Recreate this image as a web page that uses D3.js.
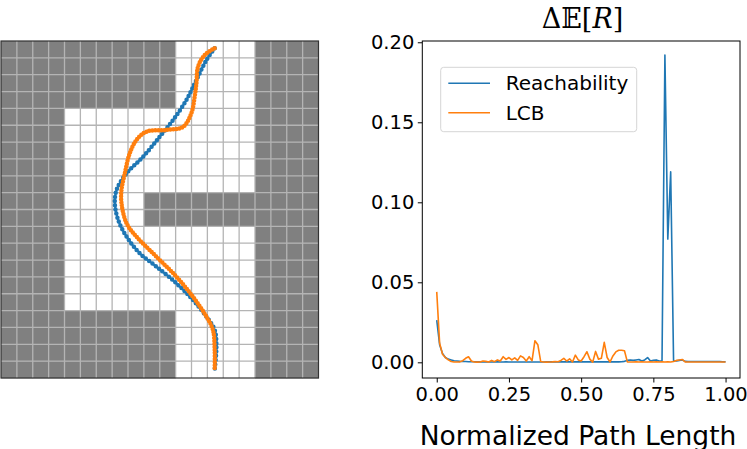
<!DOCTYPE html>
<html>
  <head>
    <meta charset="utf-8">
    <title>reachability vs lcb</title>
    <style>
      body { margin: 0; background: #fff; }
      text { font-family: "DejaVu Sans", sans-serif; fill: #000; }
    </style>
  </head>
  <body>
    <svg width="747" height="449"></svg>
    <script src="https://cdn.jsdelivr.net/npm/d3@7/dist/d3.min.js"></script>
    <script>
      // grid map, 20x20, '#' = obstacle
      var gridMap = [
        "###########.....####",
        "###########.....####",
        "###########.....####",
        "###########.....####",
        "####............####",
        "####............####",
        "####............####",
        "####............####",
        "####............####",
        "####.....###########",
        "####.....###########",
        "####............####",
        "####............####",
        "####............####",
        "####............####",
        "####............####",
        "###########.....####",
        "###########.....####",
        "###########.....####",
        "###########.....####"
      ];

      // paths in grid units [col, row]
      var pathReach = [
        [13.46,0.43],[12.94,1.13],[12.31,2.31],[11.68,3.50],[10.84,4.69],[10.0,5.68],
        [8.95,6.87],[7.91,7.85],[7.28,8.84],[7.17,9.63],[7.38,10.62],[7.91,11.61],
        [8.74,12.6],[9.79,13.39],[11.05,14.38],[12.09,15.37],[12.94,16.36],[13.46,17.15],
        [13.57,18.14],[13.46,19.52]
      ];
      var pathLCB = [
        [13.46,0.43],[12.83,0.83],[12.41,1.53],[12.31,2.51],[12.2,3.31],[11.99,4.29],
        [11.47,5.09],[10.42,5.28],[9.16,5.38],[8.53,5.88],[8.11,6.66],[7.8,7.85],
        [7.59,8.84],[7.59,9.63],[7.91,10.82],[8.53,11.61],[9.79,12.8],[11.05,13.99],
        [12.09,15.18],[12.94,16.36],[13.35,17.15],[13.46,18.33],[13.46,19.52]
      ];

      // right panel: normalized path length and delta E[R]
      var pathLength = [
        0.00,0.01,0.02,0.03,0.04,0.05,0.06,0.07,0.08,0.09,
        0.10,0.11,0.12,0.13,0.14,0.15,0.16,0.17,0.18,0.19,
        0.20,0.21,0.22,0.23,0.24,0.25,0.26,0.27,0.28,0.29,
        0.30,0.31,0.32,0.33,0.34,0.35,0.36,0.37,0.38,0.39,
        0.40,0.41,0.42,0.43,0.44,0.45,0.46,0.47,0.48,0.49,
        0.50,0.51,0.52,0.53,0.54,0.55,0.56,0.57,0.58,0.59,
        0.60,0.61,0.62,0.63,0.64,0.65,0.66,0.67,0.68,0.69,
        0.70,0.71,0.72,0.73,0.74,0.75,0.76,0.77,0.78,0.79,
        0.80,0.81,0.82,0.83,0.84,0.85,0.86,0.87,0.88,0.89,
        0.90,0.91,0.92,0.93,0.94,0.95,0.96,0.97,0.98,0.99,1.00
      ];
      var reachValues = [
        0.0264,0.0110,0.0055,0.0030,0.0020,0.0015,0.0010,0.0008,0.0006,0.0005,
        0.0005,0.0004,0.0004,0.0004,0.0003,0.0003,0.0003,0.0003,0.0002,0.0002,
        0.0002,0.0003,0.0002,0.0002,0.0003,0.0002,0.0002,0.0002,0.0002,0.0002,
        0.0002,0.0002,0.0002,0.0002,0.0002,0.0002,0.0002,0.0002,0.0003,0.0003,
        0.0003,0.0003,0.0003,0.0003,0.0003,0.0004,0.0003,0.0003,0.0004,0.0003,
        0.0003,0.0004,0.0003,0.0004,0.0003,0.0003,0.0004,0.0003,0.0003,0.0004,
        0.0003,0.0003,0.0004,0.0003,0.0004,0.0006,0.0012,0.0015,0.0012,0.0015,
        0.0018,0.0008,0.0015,0.0030,0.0008,0.0012,0.0015,0.0008,0.0010,0.1920,
        0.0770,0.1190,0.0010,0.0008,0.0012,0.0015,0.0006,0.0005,0.0005,0.0005,
        0.0005,0.0005,0.0005,0.0005,0.0005,0.0005,0.0005,0.0005,0.0005,0.0004,0.0004
      ];
      var lcbValues = [
        0.0440,0.0120,0.0050,0.0030,0.0015,0.0005,0.0002,0.0002,0.0003,0.0010,
        0.0025,0.0035,0.0008,0.0002,0.0001,0.0002,0.0008,0.0006,0.0002,0.0012,
        0.0004,0.0015,0.0008,0.0035,0.0018,0.0030,0.0015,0.0028,0.0012,0.0040,
        0.0030,0.0008,0.0035,0.0010,0.0135,0.0110,0.0005,0.0002,0.0001,0.0002,
        0.0003,0.0005,0.0004,0.0012,0.0025,0.0008,0.0022,0.0002,0.0045,0.0015,
        0.0008,0.0035,0.0066,0.0020,0.0001,0.0068,0.0020,0.0025,0.0125,0.0030,
        0.0002,0.0040,0.0065,0.0075,0.0075,0.0072,0.0003,0.0002,0.0002,0.0003,
        0.0002,0.0003,0.0002,0.0002,0.0003,0.0002,0.0003,0.0002,0.0003,0.0002,
        0.0003,0.0002,0.0005,0.0012,0.0015,0.0018,0.0003,0.0002,0.0002,0.0002,
        0.0002,0.0002,0.0002,0.0002,0.0002,0.0002,0.0002,0.0002,0.0002,0.0002,0.0002
      ];
      var yTicks = [0, 0.05, 0.10, 0.15, 0.20];
      var xTicks = [0, 0.25, 0.5, 0.75, 1.0];
      var seriesNames = ["Reachability", "LCB"];

      var blue = "#1f77b4", orange = "#ff7f0e";
      var svg = d3.select("svg");

      // ---------- left: grid map ----------
      var mx = d3.scaleLinear().domain([0, 20]).range([1, 318.5]);
      var my = d3.scaleLinear().domain([0, 20]).range([41, 378]);
      var gMap = svg.append("g");

      var cells = [];
      gridMap.forEach(function(row, r){
        row.split("").forEach(function(c, k){
          cells.push({r:r, c:k, wall:c === "#"});
        });
      });
      gMap.selectAll("rect.cell")
        .data(cells)
        .enter()
        .append("rect")
        .attr("x", function(d){ return mx(d.c); })
        .attr("y", function(d){ return my(d.r); })
        .attr("width", mx(1) - mx(0) + 0.3)
        .attr("height", my(1) - my(0) + 0.3)
        .attr("fill", function(d){ return d.wall ? "#808080" : "#ffffff"; });

      // grid lines
      gMap.selectAll("line.v")
        .data(d3.range(1, 20))
        .enter().append("line")
        .attr("x1", function(d){ return mx(d); }).attr("x2", function(d){ return mx(d); })
        .attr("y1", my(0)).attr("y2", my(20))
        .attr("stroke", "#b4b4b4").attr("stroke-width", 1.3);
      gMap.selectAll("line.h")
        .data(d3.range(1, 20))
        .enter().append("line")
        .attr("y1", function(d){ return my(d); }).attr("y2", function(d){ return my(d); })
        .attr("x1", mx(0)).attr("x2", mx(20))
        .attr("stroke", "#b4b4b4").attr("stroke-width", 1.3);

      gMap.append("rect")
        .attr("x", mx(0)).attr("y", my(0))
        .attr("width", mx(20) - mx(0)).attr("height", my(20) - my(0))
        .attr("fill", "none").attr("stroke", "#333").attr("stroke-width", 1.2);

      var mapLine = d3.line()
        .x(function(d){ return mx(d[0]); })
        .y(function(d){ return my(d[1]); })
        .curve(d3.curveCatmullRom.alpha(0.5));

      function drawPath(pts, color, gap){
        gMap.append("path").attr("d", mapLine(pts))
          .attr("fill", "none").attr("stroke", color).attr("stroke-width", 2);
        // markers along the path
        gMap.append("path").attr("d", mapLine(pts))
          .attr("fill", "none").attr("stroke", color).attr("stroke-width", 4.5)
          .attr("stroke-linecap", "round")
          .attr("stroke-dasharray", "0 " + gap);
      }
      drawPath(pathReach, blue, 4.2);
      drawPath(pathLCB, orange, 3);

      // ---------- right: line chart ----------
      var x = d3.scaleLinear().domain([-0.05, 1.05]).range([422.3, 740]);
      var y = d3.scaleLinear().domain([-0.0098, 0.2008]).range([378, 41]);
      var g = svg.append("g");

      var line = d3.line()
        .x(function(d, i){ return x(pathLength[i]); })
        .y(function(d){ return y(d); });

      g.append("path").attr("d", line(reachValues))
        .attr("fill", "none").attr("stroke", blue).attr("stroke-width", 1.6)
        .attr("stroke-linejoin", "round");
      g.append("path").attr("d", line(lcbValues))
        .attr("fill", "none").attr("stroke", orange).attr("stroke-width", 1.6)
        .attr("stroke-linejoin", "round");

      var yAxis = g.append("g")
        .attr("transform", "translate(" + x.range()[0] + ",0)")
        .call(d3.axisLeft(y).tickValues(yTicks).tickFormat(d3.format(".2f"))
          .tickSize(4.5).tickPadding(3.5));
      var xAxis = g.append("g")
        .attr("transform", "translate(0," + y.range()[0] + ")")
        .call(d3.axisBottom(x).tickValues(xTicks).tickFormat(d3.format(".2f"))
          .tickSize(4.5).tickPadding(4.5));
      [xAxis, yAxis].forEach(function(a){
        a.select(".domain").remove();
        a.selectAll("text").style("font-size", "19.5px").attr("fill", "#000")
          .style("font-family", "DejaVu Sans, sans-serif");
        a.selectAll("line").attr("stroke", "#000").attr("stroke-width", 1);
      });

      g.append("rect")
        .attr("x", x.range()[0]).attr("y", y.range()[1])
        .attr("width", x.range()[1] - x.range()[0])
        .attr("height", y.range()[0] - y.range()[1])
        .attr("fill", "none").attr("stroke", "#000").attr("stroke-width", 1);

      // legend
      var leg = g.append("g").attr("transform", "translate(440.7,67.3)");
      leg.append("rect")
        .attr("width", 196).attr("height", 64.4).attr("rx", 3)
        .attr("fill", "#fff").attr("fill-opacity", 0.8)
        .attr("stroke", "#d5d5d5").attr("stroke-width", 1);
      seriesNames.forEach(function(name, i){
        var ly = 16 + i * 29.4;
        leg.append("line")
          .attr("x1", 7.6).attr("x2", 49.3).attr("y1", ly).attr("y2", ly)
          .attr("stroke", i === 0 ? blue : orange).attr("stroke-width", 1.6);
        leg.append("text")
          .attr("x", 65).attr("y", ly + 7.2)
          .style("font-size", "20px")
          .text(name);
      });

      // title
      var title = svg.append("text")
        .attr("x", 582.5).attr("y", 28)
        .attr("text-anchor", "middle")
        .style("font-family", "DejaVu Serif, serif")
        .style("font-size", "27px");
      title.append("tspan").text("Δ");
      title.append("tspan").text("𝔼");
      title.append("tspan").text("[");
      title.append("tspan").style("font-style", "italic").text("R");
      title.append("tspan").text("]");

      // x label (descender cut at the bottom edge, as in the original)
      svg.append("text")
        .attr("x", 578).attr("y", 444.5)
        .attr("text-anchor", "middle")
        .style("font-size", "26.5px")
        .text("Normalized Path Length");
    </script>
  </body>
</html>
